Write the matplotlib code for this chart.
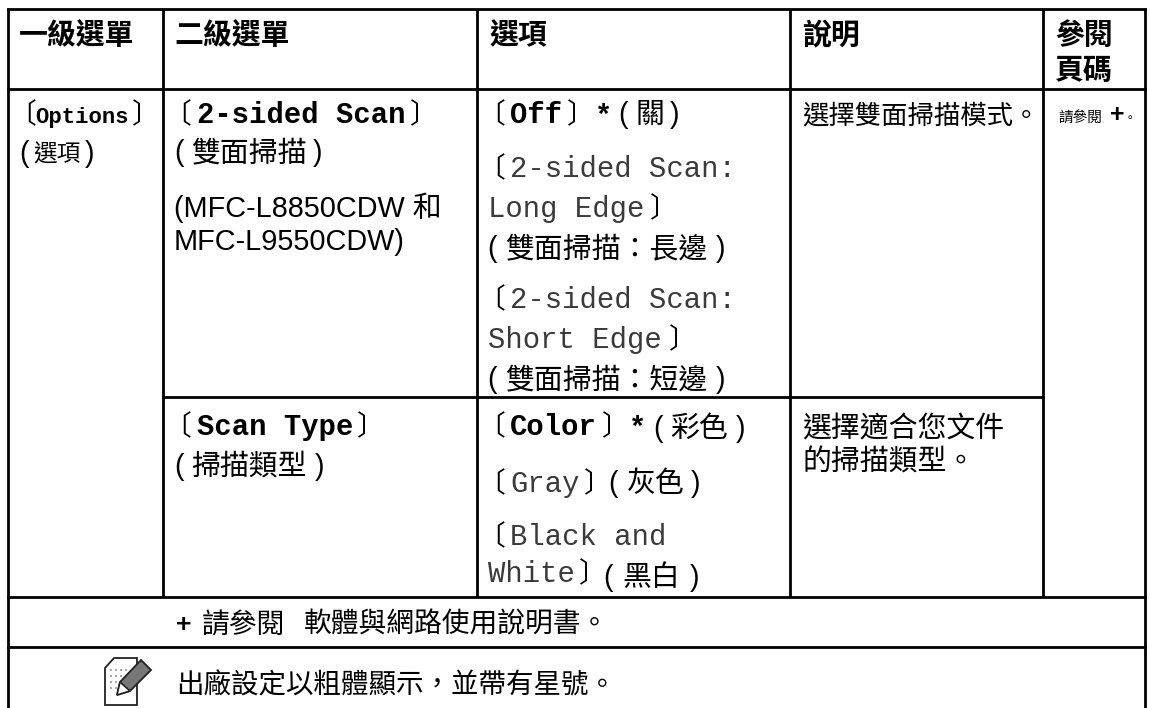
import matplotlib
matplotlib.use("Agg")
import matplotlib.pyplot as plt
from matplotlib.patches import Polygon, Rectangle

# table text
headers = ["一級選單", "二級選單", "選項", "說明"]
header_ref = ["參閱", "頁碼"]
menu1 = ["〔", "Options", "〕", "(", "選項", ")"]
scan2 = ["〔", "2-sided Scan", "〕", "(", "雙面掃描", ")"]
models = ["(MFC-L8850CDW 和", "MFC-L9550CDW)"]
type2 = ["〔", "Scan Type", "〕", "(", "掃描類型", ")"]
off_opt = ["〔", "Off", "〕", "*", "(", "關", ")"]
long_opt = ["〔", "2-sided Scan:", "Long Edge", "〕", "(", "雙面掃描：長邊", ")"]
short_opt = ["〔", "2-sided Scan:", "Short Edge", "〕", "(", "雙面掃描：短邊", ")"]
color_opt = ["〔", "Color", "〕", "*", "(", "彩色", ")"]
gray_opt = ["〔", "Gray", "〕", "(", "灰色", ")"]
bw_opt = ["〔", "Black and", "White", "〕", "(", "黑白", ")"]
desc1 = "選擇雙面掃描模式。"
desc2 = ["選擇適合您文件", "的掃描類型。"]
ref_text = ["請參閱", "+", "。"]
foot1 = ["+", "請參閱", "軟體與網路使用說明書。"]
foot2 = "出廠設定以粗體顯示，並帶有星號。"

CJK = "Noto Sans CJK TC"
SANS = "Liberation Sans"
MONO = "Liberation Mono"
THIN = "#3a3a3a"  # the plain mono text looks lighter than the rest

fig = plt.figure(figsize=(11.5, 7.08), dpi=100)
ax = fig.add_axes([0, 0, 1, 1])
ax.set_xlim(0, 1150)
ax.set_ylim(708, 0)
ax.axis("off")


def put(x, y, s, font=CJK, size=20.8, weight="normal", color="black"):
    ax.text(x, y, s, family=[font, CJK, "DejaVu Sans"], fontsize=size, fontweight=weight,
            color=color, va="baseline", ha="left")


def plain(x, y, s):
    put(x, y, s, MONO, 20.8, color=THIN)


# grid
lw = 2.0
for x in [163, 477, 790, 1043]:
    ax.plot([x, x], [9, 597], color="black", lw=lw, solid_capstyle="butt")
for x in [8, 1145]:
    ax.plot([x, x], [8, 708], color="black", lw=lw, solid_capstyle="butt")
ax.plot([8, 1145], [9, 9], color="black", lw=lw)
ax.plot([8, 1145], [89, 89], color="black", lw=lw)
ax.plot([163, 1043], [397, 397], color="black", lw=lw)
ax.plot([8, 1145], [597, 597], color="black", lw=lw)
ax.plot([8, 1145], [647, 647], color="black", lw=lw)

# header
for x, s in zip([19, 174, 489, 802], headers):
    put(x, 44, s, weight="bold")
put(1055, 44, header_ref[0], weight="bold")
put(1055, 79, header_ref[1], weight="bold")

# first column
put(8, 123, menu1[0], size=20)
put(35, 123, menu1[1], MONO, 16, "bold")
put(132, 123, menu1[2], size=20)
put(19, 162, menu1[3], SANS)
put(33, 162, menu1[4], size=17)
put(85, 162, menu1[5], SANS)

# second column
put(163, 123, scan2[0], size=20)
put(197, 123, scan2[1], MONO, 20.8, "bold")
put(410, 123, scan2[2], size=20)
put(174, 161, scan2[3], SANS)
put(191, 161, scan2[4])
put(313, 161, scan2[5], SANS)
put(174, 217, models[0], SANS)
put(174, 250, models[1], SANS)
put(163, 435, type2[0], size=20)
put(197, 435, type2[1], MONO, 20.8, "bold")
put(357, 435, type2[2], size=20)
put(174, 475, type2[3], SANS)
put(191, 475, type2[4])
put(315, 475, type2[5], SANS)

# third column
put(477, 123, off_opt[0], size=20)
put(510, 123, off_opt[1], MONO, 20.8, "bold")
put(567, 123, off_opt[2], size=20)
put(598, 123, off_opt[3], SANS, 20.8, "bold")
put(618, 123, off_opt[4], SANS)
put(636, 123, off_opt[5])
put(670, 123, off_opt[6], SANS)

put(477, 177, long_opt[0], size=20)
plain(510, 177, long_opt[1])
plain(488, 217, long_opt[2])
put(650, 217, long_opt[3], size=20)
put(487, 257, long_opt[4], SANS)
put(505, 257, long_opt[5])
put(716, 257, long_opt[6], SANS)

put(477, 308, short_opt[0], size=20)
plain(510, 308, short_opt[1])
plain(488, 348, short_opt[2])
put(669, 348, short_opt[3], size=20)
put(487, 388, short_opt[4], SANS)
put(505, 388, short_opt[5])
put(716, 388, short_opt[6], SANS)

put(477, 435, color_opt[0], size=20)
put(510, 435, color_opt[1], MONO, 20.8, "bold")
put(602, 435, color_opt[2], size=20)
put(632, 435, color_opt[3], SANS, 20.8, "bold")
put(653, 437, color_opt[4], SANS)
put(670, 437, color_opt[5])
put(736, 437, color_opt[6], SANS)

put(477, 492, gray_opt[0], size=20)
plain(510, 492, gray_opt[1])
put(584, 492, gray_opt[2], size=20)
put(608, 492, gray_opt[3], SANS)
put(627, 492, gray_opt[4])
put(691, 492, gray_opt[5], SANS)

put(477, 545, bw_opt[0], size=20)
plain(510, 545, bw_opt[1])
plain(488, 582, bw_opt[2])
put(579, 582, bw_opt[3], size=20)
put(603, 586, bw_opt[4], SANS)
put(622, 586, bw_opt[5])
put(690, 586, bw_opt[6], SANS)

# description and page reference
put(802, 123, desc1, size=19)
put(802, 438, desc2[0])
put(802, 471, desc2[1])
put(1058, 122, ref_text[0], size=10.5)
put(1110, 122, ref_text[1], SANS, 18, "bold")
put(1124, 122, ref_text[2], size=9)

# footer rows
put(176, 632, foot1[0], SANS, 19, "bold")
put(202, 633, foot1[1], size=20)
put(304, 633, foot1[2], size=20)
put(176, 693, foot2, size=19.8)

# note icon
ax.add_patch(Polygon([[105, 668], [114, 658], [137, 658], [137, 705], [105, 705]], closed=True,
                     fc="white", ec="#222222", lw=1.3))
for yy in [669, 675, 681, 687]:
    for xx in [110, 115, 120, 125]:
        ax.add_patch(Rectangle((xx, yy), 2, 2, fc="#aaaaaa", ec="none"))
ax.add_patch(Polygon([[117, 695], [120, 682], [141, 660], [151, 670], [130, 691]], closed=True,
                     fc="#777777", ec="#222222", lw=1.3, zorder=3))
ax.add_patch(Polygon([[117, 695], [120, 682], [130, 691]], closed=True,
                     fc="white", ec="#222222", lw=1.2, zorder=4))

fig.savefig("out.png", dpi=100)
